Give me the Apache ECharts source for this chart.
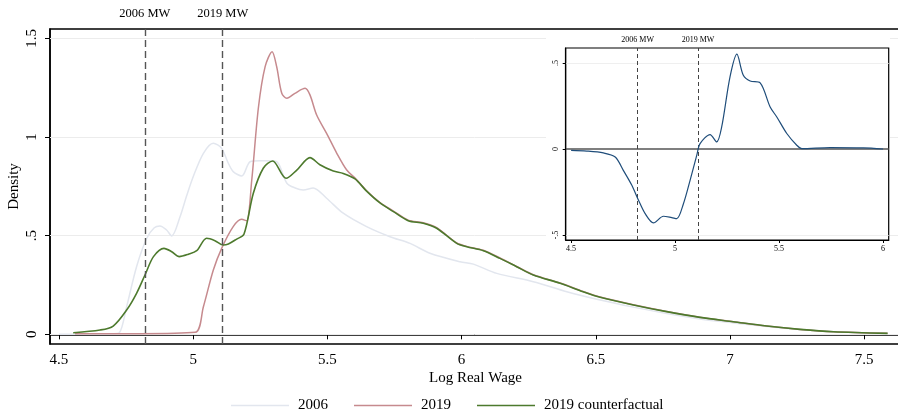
<!DOCTYPE html>
<html><head><meta charset="utf-8">
<script src="https://cdn.jsdelivr.net/npm/echarts@6/dist/echarts.min.js"></script>
<style>html,body{margin:0;padding:0;background:#fff}#c{width:898px;height:413px}</style>
</head><body><div id="c"></div>
<script>
// ---- data ----
const wage2006 = [4.50,4.60,4.70,4.725,4.752,4.789,4.827,4.855,4.876,4.90,4.92,4.951,4.975,5.0,5.038,5.075,5.106,5.13,5.149,5.181,5.212,5.249,5.274,5.311,5.349,5.38,5.41,5.447,5.497,5.559,5.646,5.733,5.808,5.882,5.994,6.044,6.131,6.267,6.392,6.516,6.64,6.764,6.888,7.012,7.137,7.261,7.385,7.587];
const dens2006 = [0.000,0.001,0.003,0.008,0.14,0.343,0.487,0.54,0.549,0.53,0.499,0.596,0.70,0.799,0.918,0.969,0.943,0.87,0.825,0.803,0.875,0.880,0.880,0.875,0.766,0.742,0.732,0.742,0.690,0.614,0.546,0.495,0.461,0.411,0.368,0.356,0.309,0.267,0.216,0.174,0.138,0.106,0.078,0.058,0.040,0.024,0.013,0.005];

const wage2019 = [4.56,4.80,5.007,5.038,5.075,5.106,5.149,5.18,5.199,5.218,5.243,5.268,5.294,5.311,5.33,5.349,5.379,5.417,5.435,5.46,5.497,5.535,5.572,5.603,5.646,5.696,5.746,5.801,5.857,5.907,5.982,6.019,6.081,6.143,6.205,6.267,6.367,6.453,6.516,6.64,6.764,6.888,7.012,7.137,7.261,7.385,7.587];
const dens2019 = [0.003,0.003,0.010,0.14,0.326,0.436,0.546,0.583,0.576,0.78,1.15,1.357,1.433,1.357,1.222,1.197,1.222,1.247,1.214,1.112,1.019,0.918,0.833,0.792,0.728,0.668,0.625,0.579,0.566,0.541,0.463,0.446,0.426,0.387,0.344,0.302,0.260,0.217,0.189,0.150,0.116,0.087,0.064,0.042,0.025,0.013,0.005];

const wageCf = [4.553,4.653,4.702,4.752,4.789,4.822,4.852,4.891,4.92,4.948,4.982,5.013,5.05,5.081,5.112,5.131,5.162,5.189,5.224,5.261,5.296,5.346,5.386,5.435,5.472,5.522,5.559,5.603,5.646,5.696,5.746,5.801,5.857,5.907,5.982,6.019,6.081,6.143,6.205,6.267,6.367,6.453,6.516,6.64,6.764,6.888,7.012,7.137,7.261,7.385,7.587];
const densCf = [0.008,0.022,0.042,0.123,0.208,0.306,0.394,0.436,0.419,0.394,0.406,0.424,0.487,0.475,0.453,0.458,0.483,0.507,0.715,0.842,0.879,0.791,0.833,0.896,0.860,0.828,0.816,0.788,0.726,0.666,0.622,0.576,0.563,0.538,0.461,0.444,0.424,0.385,0.343,0.301,0.259,0.216,0.188,0.149,0.115,0.086,0.064,0.042,0.025,0.013,0.005];

const wageDiff = [4.50,4.575,4.655,4.712,4.751,4.792,4.824,4.856,4.896,4.944,4.984,5.008,5.04,5.072,5.104,5.12,5.168,5.20,5.224,5.264,5.297,5.328,5.361,5.409,5.457,5.489,5.537,5.585,5.609,5.745,5.905,6.0];
const densDiff = [-0.008,-0.012,-0.023,-0.047,-0.124,-0.211,-0.298,-0.376,-0.430,-0.391,-0.399,-0.405,-0.318,-0.182,-0.037,0.031,0.084,0.041,0.128,0.419,0.551,0.428,0.395,0.384,0.244,0.186,0.090,0.022,0.002,0.008,0.006,0.0];

const mainXTicks = [4.5,5,5.5,6,6.5,7,7.5];
const mainYTicks = [0,0.5,1,1.5];
const insetXTicks = [4.5,5,5.5,6];
const insetYTicks = [-0.5,0,0.5];
const mwValues = [4.822,5.106];
const mwLabels = ['2006 MW','2019 MW'];
const seriesNames = ['2006','2019','2019 counterfactual'];

// ---- build ----
const zip = (a,b)=>a.map((v,i)=>[v,b[i]]);
const fmt = v => String(v).replace(/^0\./,'.').replace(/^-0\./,'-.');
const FONT = 'Liberation Serif';
const C06 = '#e2e6ee', C19 = '#c68a8e', CCF = '#4d7a2d', CDIFF = '#1f4d7a';

const chart = echarts.init(document.getElementById('c'), null, {renderer:'canvas'});
const option = {
  animation:false,
  backgroundColor:'#fff',
  textStyle:{fontFamily:FONT},
  graphic:{elements:[{type:'rect', z:3, silent:true, shape:{x:546,y:31,width:344,height:231}, style:{fill:'#fff'}}]},
  legend:{
    left:231, top:398, itemWidth:58, itemHeight:1.5, itemGap:26, padding:0, icon:'rect',
    data:seriesNames,
    textStyle:{fontFamily:FONT, fontSize:15, color:'#000', padding:[0,0,0,4]}
  },
  grid:[
    {left:50, top:29, right:-3, bottom:69, show:true, borderColor:'#000', borderWidth:1.5, containLabel:false, outerBoundsMode:'none'},
    {left:565.7, top:48, right:9.3, bottom:173, show:true, borderColor:'#000', borderWidth:1.2, z:4, containLabel:false, outerBoundsMode:'none'}
  ],
  xAxis:[
    {type:'value', gridIndex:0, min:4.4665, max:7.637,
     axisLine:{show:true, lineStyle:{color:'#000', width:1.5}},
     axisTick:{show:true, customValues:mainXTicks, length:5, lineStyle:{color:'#000', width:1}},
     axisLabel:{customValues:mainXTicks, fontFamily:FONT, fontSize:15, color:'#000', margin:9, formatter:fmt},
     splitLine:{show:false},
     name:'Log Real Wage', nameLocation:'middle', nameGap:27, nameMoveOverlap:false,
     nameTextStyle:{fontFamily:FONT, fontSize:15, color:'#000'}},
    {type:'value', gridIndex:1, min:4.474, max:6.027, z:4,
     axisLine:{show:true, onZero:false, lineStyle:{color:'#000', width:1.2}},
     axisTick:{show:true, customValues:insetXTicks, length:3, lineStyle:{color:'#000', width:1}},
     axisLabel:{customValues:insetXTicks, fontFamily:FONT, fontSize:8, color:'#000', margin:5, formatter:fmt},
     splitLine:{show:false}}
  ],
  yAxis:[
    {type:'value', gridIndex:0, min:-0.049, max:1.548,
     axisLine:{show:true, lineStyle:{color:'#000', width:1.5}},
     axisTick:{show:true, customValues:mainYTicks, length:5, lineStyle:{color:'#000', width:1}},
     axisLabel:{customValues:mainYTicks, rotate:90, fontFamily:FONT, fontSize:15, color:'#000', margin:10, formatter:fmt},
     splitLine:{show:false},
     name:'Density', nameLocation:'middle', nameGap:28, nameMoveOverlap:false,
     nameTextStyle:{fontFamily:FONT, fontSize:15, color:'#000'}},
    {type:'value', gridIndex:1, min:-0.529, max:0.587, z:4,
     axisLine:{show:true, onZero:false, lineStyle:{color:'#000', width:1.2}},
     axisTick:{show:true, customValues:insetYTicks, length:3, lineStyle:{color:'#000', width:1}},
     axisLabel:{customValues:insetYTicks, rotate:90, fontFamily:FONT, fontSize:8, color:'#000', margin:6, formatter:fmt},
     splitLine:{show:false}}
  ],
  series:[
    {name:'2006', type:'line', xAxisIndex:0, yAxisIndex:0, data:zip(wage2006,dens2006), smooth:0.3, symbol:'none', z:2,
     lineStyle:{color:C06, width:1.5}, itemStyle:{color:C06},
     markLine:{silent:true, symbol:'none', z:1, animation:false, label:{show:false},
       lineStyle:{color:'#ececec', type:'solid', width:1},
       data:mainYTicks.map(v=>({yAxis:v}))}},
    {name:'2019', type:'line', xAxisIndex:0, yAxisIndex:0, data:zip(wage2019,dens2019), smooth:0.3, symbol:'none', z:2,
     lineStyle:{color:C19, width:1.5}, itemStyle:{color:C19}},
    {name:'2019 counterfactual', type:'line', xAxisIndex:0, yAxisIndex:0, data:zip(wageCf,densCf), smooth:0.3, symbol:'none', z:2,
     lineStyle:{color:CCF, width:1.6}, itemStyle:{color:CCF},
     markLine:{silent:true, symbol:'none', animation:false,
       lineStyle:{color:'#555', type:[7,4], width:1.4},
       label:{show:true, position:'end', distance:9, fontFamily:FONT, fontSize:12.5, color:'#000'},
       data:mwValues.map((v,i)=>({xAxis:v, label:{formatter:mwLabels[i]}}))}},
    {name:'diff', type:'line', xAxisIndex:1, yAxisIndex:1, data:zip(wageDiff,densDiff), smooth:0.3, symbol:'none', z:4,
     lineStyle:{color:CDIFF, width:1.2}, itemStyle:{color:CDIFF},
     markLine:{silent:true, symbol:'none', animation:false, z:4,
       label:{show:false},
       data:[
         {yAxis:0.5, lineStyle:{color:'#efefef', type:'solid', width:1}},
         {yAxis:-0.5, lineStyle:{color:'#efefef', type:'solid', width:1}},
         {yAxis:0, lineStyle:{color:'#555', type:'solid', width:1.5}},
         ...mwValues.map((v,i)=>({xAxis:v, lineStyle:{color:'#444', type:[4,3], width:1},
            label:{show:true, position:'end', distance:4, fontFamily:FONT, fontSize:8, color:'#000', formatter:mwLabels[i]}}))
       ]}}
  ]
};
chart.setOption(option);
</script>
</body></html>
